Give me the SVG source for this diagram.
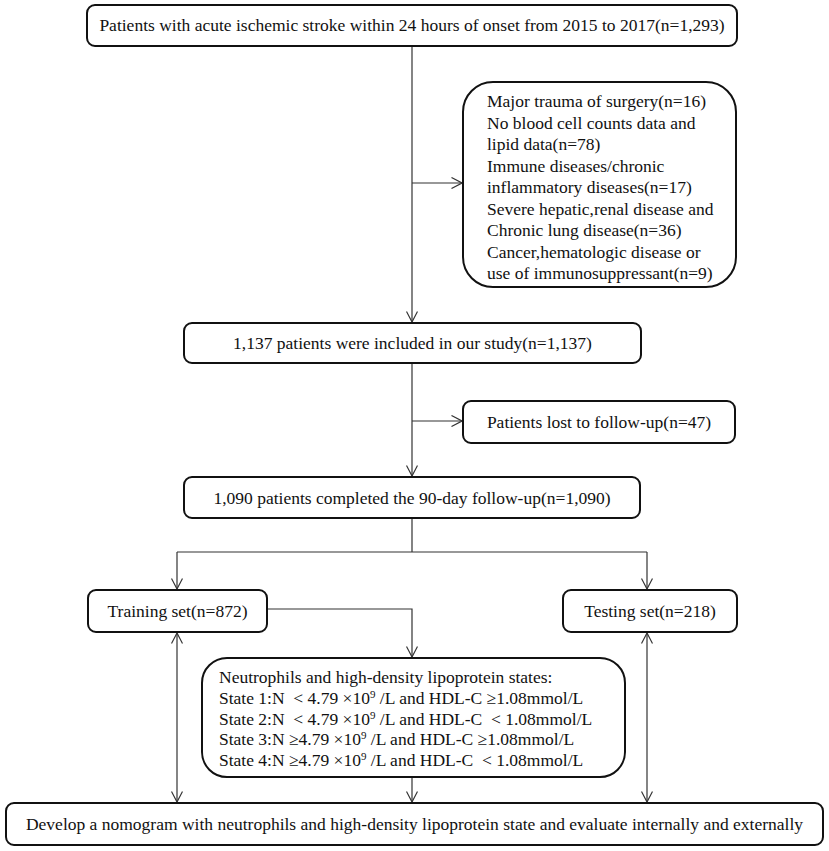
<svg xmlns="http://www.w3.org/2000/svg" width="829" height="851" viewBox="0 0 829 851">
<style>
.box{fill:#fff;stroke:#111;stroke-width:2}
.t{font-family:"Liberation Serif","Times New Roman",serif;font-size:17.5px;fill:#111}
.c{text-anchor:middle}
.ln{fill:none;stroke:#333;stroke-width:1.2}
</style>
<defs>
<marker id="ah" viewBox="0 0 12 12" refX="11" refY="6" markerWidth="12" markerHeight="12" markerUnits="userSpaceOnUse" orient="auto-start-reverse">
<path d="M0.5,0.5 L11,6 L0.5,11.5" fill="none" stroke="#333" stroke-width="1.2"/>
</marker>
</defs>
<rect width="829" height="851" fill="#fff"/>
<g id="connectors">
<path class="ln" d="M412,46 V322" marker-end="url(#ah)"/>
<path class="ln" d="M412,183 H462" marker-end="url(#ah)"/>
<path class="ln" d="M412,363 V476" marker-end="url(#ah)"/>
<path class="ln" d="M412,421 H462" marker-end="url(#ah)"/>
<path class="ln" d="M412,518 V552 M177,552 H647"/>
<path class="ln" d="M177,552 V589" marker-end="url(#ah)"/>
<path class="ln" d="M647,552 V589" marker-end="url(#ah)"/>
<path class="ln" d="M267,609 H412 V657" marker-end="url(#ah)"/>
<path class="ln" d="M177,633 V802" marker-start="url(#ah)" marker-end="url(#ah)"/>
<path class="ln" d="M647,633 V802" marker-start="url(#ah)" marker-end="url(#ah)"/>
<path class="ln" d="M412,777 V802" marker-end="url(#ah)"/>
</g>
<g id="n1">
<rect class="box" x="87" y="5" width="650" height="41" rx="8"/>
<text class="t c" x="412" y="31">Patients with acute ischemic stroke within 24 hours of onset from 2015 to 2017(n=1,293)</text>
</g>
<g id="n2">
<rect class="box" x="463" y="82" width="273" height="205" rx="30"/>
<text class="t" x="487">
<tspan x="487" y="107">Major trauma of surgery(n=16)</tspan>
<tspan x="487" y="128.5">No blood cell counts data and</tspan>
<tspan x="487" y="150">lipid data(n=78)</tspan>
<tspan x="487" y="171.5">Immune diseases/chronic</tspan>
<tspan x="487" y="193">inflammatory diseases(n=17)</tspan>
<tspan x="487" y="214.5">Severe hepatic,renal disease and</tspan>
<tspan x="487" y="236">Chronic lung disease(n=36)</tspan>
<tspan x="487" y="257.5">Cancer,hematologic disease or</tspan>
<tspan x="487" y="279">use of immunosuppressant(n=9)</tspan>
</text>
</g>
<g id="n3">
<rect class="box" x="184" y="323" width="457" height="40" rx="8"/>
<text class="t c" x="412.5" y="349">1,137 patients were included in our study(n=1,137)</text>
</g>
<g id="n4">
<rect class="box" x="463" y="401" width="272" height="42" rx="8"/>
<text class="t c" x="599" y="428">Patients lost to follow-up(n=47)</text>
</g>
<g id="n5">
<rect class="box" x="184" y="477" width="456" height="41" rx="8"/>
<text class="t c" x="412" y="503.5">1,090 patients completed the 90-day follow-up(n=1,090)</text>
</g>
<g id="n6">
<rect class="box" x="88" y="590" width="179" height="42" rx="8"/>
<text class="t c" x="177.5" y="617">Training set(n=872)</text>
</g>
<g id="n7">
<rect class="box" x="563" y="590" width="174" height="42" rx="8"/>
<text class="t c" x="650" y="617">Testing set(n=218)</text>
</g>
<g id="n8">
<rect class="box" x="202" y="658" width="423" height="119" rx="25"/>
<text class="t" xml:space="preserve" x="219" y="683">Neutrophils and high-density lipoprotein states:</text>
<text class="t" xml:space="preserve" x="219" y="704">State 1:N  &lt; 4.79 ×10<tspan font-size="11" dy="-6">9</tspan><tspan dy="6"> /L and HDL-C ≥1.08mmol/L</tspan></text>
<text class="t" xml:space="preserve" x="219" y="724.5">State 2:N  &lt; 4.79 ×10<tspan font-size="11" dy="-6">9</tspan><tspan dy="6"> /L and HDL-C  &lt; 1.08mmol/L</tspan></text>
<text class="t" xml:space="preserve" x="219" y="745">State 3:N ≥4.79 ×10<tspan font-size="11" dy="-6">9</tspan><tspan dy="6"> /L and HDL-C ≥1.08mmol/L</tspan></text>
<text class="t" xml:space="preserve" x="219" y="766">State 4:N ≥4.79 ×10<tspan font-size="11" dy="-6">9</tspan><tspan dy="6"> /L and HDL-C  &lt; 1.08mmol/L</tspan></text>
</g>
<g id="n9">
<rect class="box" x="6" y="803" width="817" height="42" rx="8"/>
<text class="t c" x="414.5" y="830">Develop a nomogram with neutrophils and high-density lipoprotein state and evaluate internally and externally</text>
</g>
</svg>
